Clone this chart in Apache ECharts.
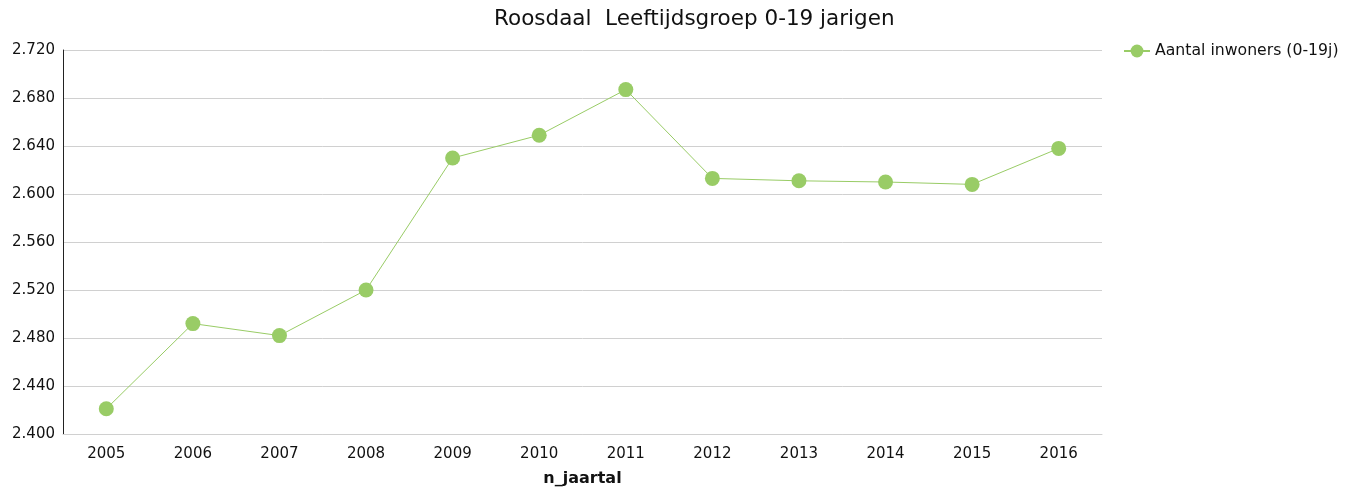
<!DOCTYPE html>
<html>
<head>
<meta charset="utf-8">
<script src="https://cdn.jsdelivr.net/npm/echarts@6/dist/echarts.min.js"></script>
<style>
html, body { margin: 0; padding: 0; background: #fff; }
#main { width: 1352px; height: 492px; }
</style>
</head>
<body>
<div id="main"></div>
<script>
var years = ['2005', '2006', '2007', '2008', '2009', '2010', '2011', '2012', '2013', '2014', '2015', '2016'];
var inwoners = [2421, 2492, 2482, 2520, 2630, 2649, 2687, 2613, 2611, 2610, 2608, 2638];
var seriesName = 'Aantal inwoners (0-19j)';
var titleText = 'Roosdaal  Leeftijdsgroep 0-19 jarigen';

var fontName = 'DejaVu Sans';
var myChart = echarts.init(document.getElementById('main'));
var option = {
	backgroundColor: '#fff',
	animation: false,
	textStyle: { fontFamily: fontName },
	title: {
		text: titleText,
		left: 489,
		top: 3,
		textStyle: { fontFamily: fontName, fontSize: 21.5, fontWeight: 'normal', color: '#111' }
	},
	legend: {
		data: [seriesName],
		left: 1118,
		top: 38,
		itemWidth: 26,
		itemHeight: 16,
		itemGap: 4,
		textStyle: { fontFamily: fontName, fontSize: 15.7, color: '#111' }
	},
	grid: {
		left: 63,
		right: 250,
		top: 50,
		bottom: 57
	},
	xAxis: {
		type: 'category',
		data: years,
		boundaryGap: true,
		name: 'n_jaartal',
		nameLocation: 'middle',
		nameGap: 37,
		nameTextStyle: { fontFamily: fontName, fontSize: 16, fontWeight: 'bold', color: '#111' },
		axisLine: { lineStyle: { color: '#d0d0d0' } },
		axisTick: { show: false },
		axisLabel: { fontFamily: fontName, fontSize: 15, color: '#111', margin: 13 }
	},
	yAxis: {
		type: 'value',
		min: 2400,
		max: 2720,
		interval: 40,
		axisLine: { show: true, lineStyle: { color: '#222' } },
		axisTick: { show: false },
		splitLine: { lineStyle: { color: '#d0d0d0' } },
		axisLabel: {
			fontFamily: fontName,
			fontSize: 15,
			color: '#111',
			margin: 8,
			formatter: function (v) {
				return (v / 1000).toFixed(3);
			}
		}
	},
	series: [{
		name: seriesName,
		type: 'line',
		data: inwoners,
		symbol: 'circle',
		symbolSize: 15,
		showAllSymbol: true,
		itemStyle: { color: '#99cc66' },
		lineStyle: { color: '#99cc66', width: 1 }
	}]
};
myChart.setOption(option);
</script>
</body>
</html>
